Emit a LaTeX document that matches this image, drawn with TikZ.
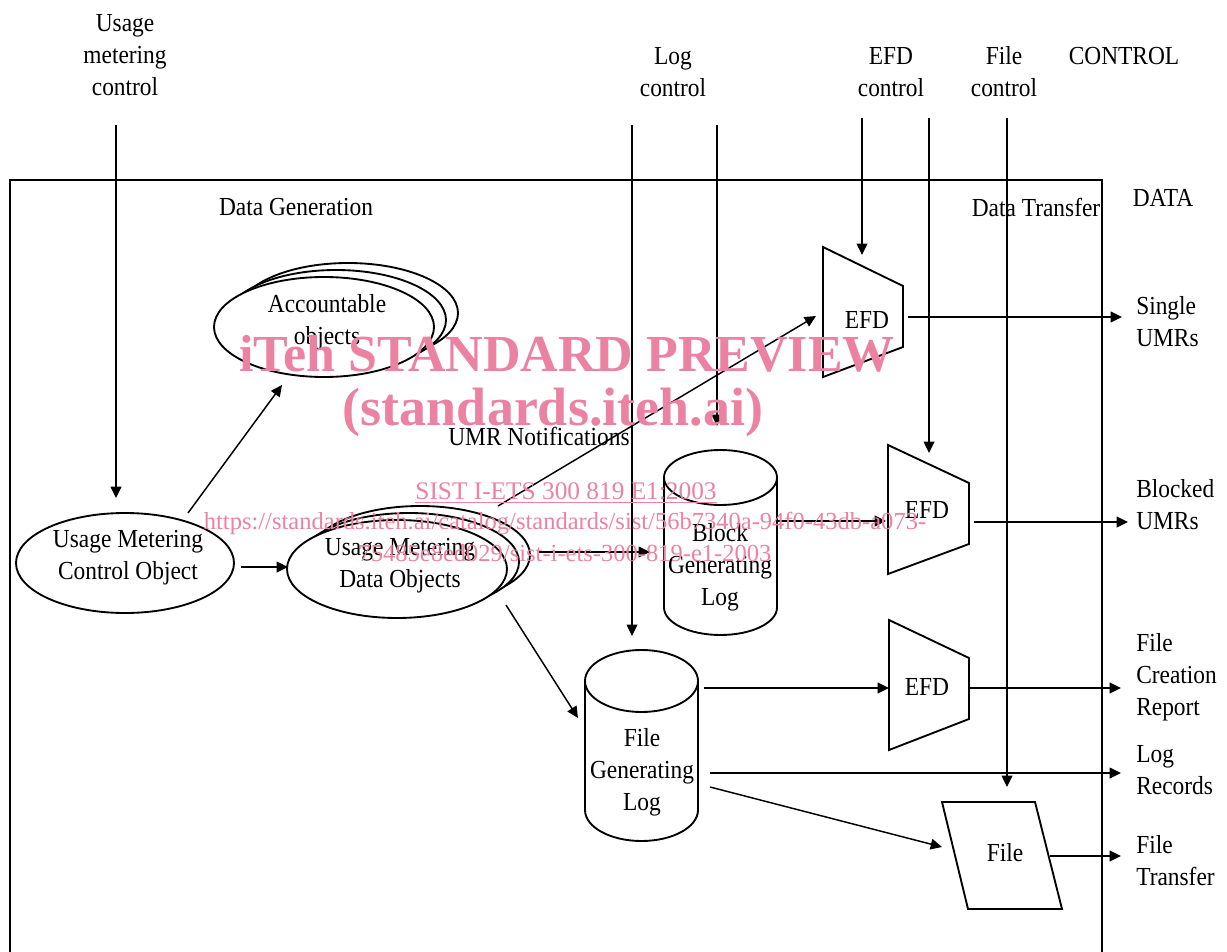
\documentclass[tikz,border=0pt]{standalone}
\usepackage{fontspec}
\setmainfont{Liberation Serif}[FakeStretch=0.9]
\newfontfamily\wmfont{Liberation Serif}
\usetikzlibrary{arrows.meta}
\definecolor{wmpink}{RGB}{236,130,162}
\begin{document}
\begin{tikzpicture}[x=0.75pt,y=-0.75pt,
  txt/.style={font=\fontsize{19.5pt}{24pt}\selectfont, inner sep=0pt, align=center},
  lbl/.style={txt, anchor=west, align=left},
  arr/.style={line width=1.1pt, -{Triangle[length=8.5pt,width=8pt]}},
  shp/.style={line width=1.4pt},
  wm/.style={font=\wmfont\fontsize{19pt}{24pt}\selectfont, text=wmpink, inner sep=0pt},
  wmb/.style={font=\wmfont\bfseries\fontsize{39pt}{44pt}\selectfont, text=wmpink, inner sep=0pt}
]
\useasboundingbox (0,0) rectangle (1227,952);
\fill[white] (0,0) rectangle (1227,952);

% outer DATA box (bottom edge off the picture)
\draw[line width=1.6pt] (10,960) -- (10,180) -- (1102,180) -- (1102,960);

% ---- top labels
\node[txt] (lumc) at (125,55) {Usage\\metering\\control};
\node[txt] (llog) at (673,72) {Log\\control};
\node[txt] (lefd) at (891,72) {EFD\\control};
\node[txt] (lfile) at (1004,72) {File\\control};
\node[txt] (lcontrol) at (1124,56) {CONTROL};
\node[txt] (ldata) at (1163,198) {DATA};
\node[txt] (ldgen) at (296,207) {Data Generation};
\node[txt] (ldtr) at (1036,207) {Data Transfer};
\node[txt] (lumrn) at (539,436) {UMR Notifications};

% ---- Accountable objects (stacked)
\foreach \dx/\dy in {24/-14, 12/-7, 0/0}
  \draw[shp, fill=white] (324+\dx,327+\dy) ellipse [x radius=110, y radius=50];
\node[txt] (acc) at (327,322) {Accountable\\objects};

% ---- Usage Metering Control Object
\draw[shp] (125,563) ellipse [x radius=109, y radius=50];
\node[txt] (umco) at (128,558) {Usage Metering\\Control Object};

% ---- Usage Metering Data Objects (stacked)
\foreach \dx/\dy in {23/-14, 12/-7, 0/0}
  \draw[shp, fill=white] (397+\dx,569+\dy) ellipse [x radius=110, y radius=49];
\node[txt] (umdo) at (400,566) {Usage Metering\\Data Objects};

% ---- Block Generating Log cylinder
\draw[shp] (664,477.5) -- (664,607.5) arc[start angle=180, end angle=0, x radius=56.5, y radius=27.5] -- (777,477.5);
\draw[shp] (720.5,477.5) ellipse [x radius=56.5, y radius=27.5];
\node[txt] (bgl) at (720,567) {Block\\Generating\\Log};

% ---- File Generating Log cylinder
\draw[shp] (585,681) -- (585,810) arc[start angle=180, end angle=0, x radius=56.5, y radius=31] -- (698,681);
\draw[shp] (641.5,681) ellipse [x radius=56.5, y radius=31];
\node[txt] (fgl) at (642,772) {File\\Generating\\Log};

% ---- EFD trapezoids
\draw[shp] (823,247) -- (903,286) -- (903,347) -- (823,377) -- cycle;
\node[txt] (efd1) at (867,320) {EFD};
\draw[shp] (888,445) -- (969,483) -- (969,544) -- (888,574) -- cycle;
\node[txt] (efd2) at (927,510) {EFD};
\draw[shp] (889,620) -- (969,658) -- (969,719) -- (889,750) -- cycle;
\node[txt] (efd3) at (927,687) {EFD};

% ---- File parallelogram
\draw[shp] (942,802) -- (1035,802) -- (1062,909) -- (968,909) -- cycle;
\node[txt] (file) at (1005,853) {File};

% ---- outputs
\node[lbl] (osingle) at (1136,322) {Single\\UMRs};
\node[lbl] (oblocked) at (1136,505) {Blocked\\UMRs};
\node[lbl] (ofcr) at (1136,677) {File\\Creation\\Report};
\node[lbl] (olog) at (1136,770) {Log\\Records};
\node[lbl] (oft) at (1136,861) {File\\Transfer};

% ---- connector end points
\coordinate (c1a) at (116,125);  \coordinate (c1b) at (116,498);
\coordinate (c2a) at (632,125);  \coordinate (c2b) at (632,636);
\coordinate (c3a) at (717,125);  \coordinate (c3b) at (717,426);
\coordinate (c4a) at (862,118);  \coordinate (c4b) at (862,255);
\coordinate (c5a) at (929,118);  \coordinate (c5b) at (929,453);
\coordinate (c6a) at (1007,118); \coordinate (c6b) at (1007,787);
\coordinate (a1a) at (188,513);  \coordinate (a1b) at (282,385);
\coordinate (a2a) at (241,567);  \coordinate (a2b) at (288,567);
\coordinate (a3a) at (498,506);  \coordinate (a3b) at (816,316);
\coordinate (a4a) at (538,552);  \coordinate (a4b) at (650,552);
\coordinate (a5a) at (506,605);  \coordinate (a5b) at (578,718);
\coordinate (a6a) at (777,521);  \coordinate (a6b) at (886,521);
\coordinate (a7a) at (908,317);  \coordinate (a7b) at (1122,317);
\coordinate (a8a) at (974,522);  \coordinate (a8b) at (1128,522);
\coordinate (a9a) at (704,688);  \coordinate (a9b) at (889,688);
\coordinate (a10a) at (969,688); \coordinate (a10b) at (1121,688);
\coordinate (a11a) at (710,773); \coordinate (a11b) at (1121,773);
\coordinate (a12a) at (710,787); \coordinate (a12b) at (942,847);
\coordinate (a13a) at (1050,856); \coordinate (a13b) at (1121,856);

\foreach \s/\e in {c1a/c1b,c2a/c2b,c3a/c3b,c4a/c4b,c5a/c5b,c6a/c6b,
  a1a/a1b,a2a/a2b,a3a/a3b,a4a/a4b,a5a/a5b,a6a/a6b,a7a/a7b,a8a/a8b,
  a9a/a9b,a10a/a10b,a11a/a11b,a12a/a12b,a13a/a13b}
  \draw[arr] (\s) -- (\e);

% ---- watermark
\node[wmb] (wm1) at (567,354) {iTeh STANDARD PREVIEW};
\node[wmb, font=\wmfont\bfseries\fontsize{40.5pt}{44pt}\selectfont] (wm2) at (553,413) {(standards.iteh.ai)};
\node[wm] (wm3) at (566,493) {\underline{SIST I-ETS 300 819 E1:2003}};
\node[wm, font=\wmfont\fontsize{18.4pt}{24pt}\selectfont] (wm4) at (565,524) {https://standards.iteh.ai/catalog/standards/sist/56b7340a-94f0-43db-a073-};
\node[wm, font=\wmfont\fontsize{18.4pt}{24pt}\selectfont] (wm5) at (565,553) {75485e8ed029/sist-i-ets-300-819-e1-2003};
\end{tikzpicture}
\end{document}
